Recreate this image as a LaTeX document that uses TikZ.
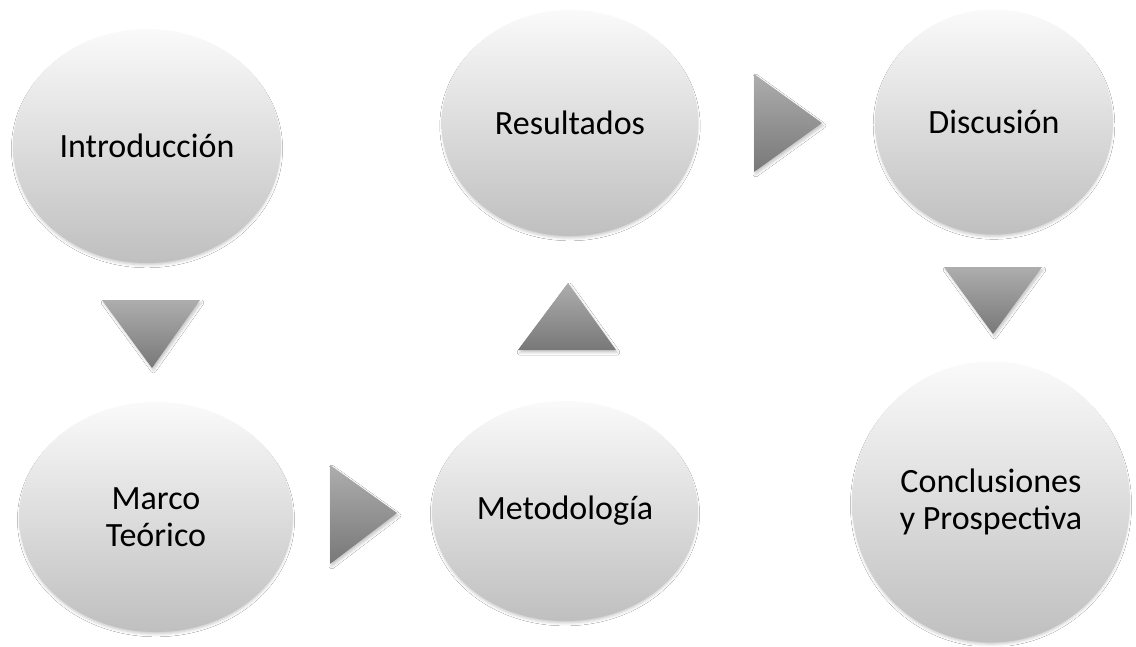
\documentclass[tikz,border=0pt]{standalone}
\usepackage{fontspec}
\setmainfont{Carlito}
\usetikzlibrary{shapes.geometric,shadows.blur}

\tikzset{
  stage/.style={ellipse, inner sep=0pt, align=center,
    top color=black!2, bottom color=black!25, draw=none,
    blur shadow={shadow xshift=0pt, shadow yshift=-3pt, shadow scale=0.99,
                 shadow blur radius=3pt, shadow opacity=22},
    font=\fontsize{34}{37.5}\selectfont},
  flowtri/.style={top color=black!32, bottom color=black!53, draw=none,
    blur shadow={shadow xshift=1.5pt, shadow yshift=-2.5pt,
                 shadow blur radius=2.5pt, shadow opacity=22}}
}

\begin{document}
\begin{tikzpicture}[x=1pt, y=-1pt]
  \fill[white] (0,0) rectangle (1136,646);
  \useasboundingbox (0,0) rectangle (1136,646);

  % stages of the work
  \node[stage, minimum width=268pt, minimum height=234pt] (intro)  at (147,146) {Introducción};
  \node[stage, minimum width=274pt, minimum height=230pt] (marco)  at (156,517) {Marco\\Teórico};
  \node[stage, minimum width=266pt, minimum height=220pt] (metodo) at (565,511) {Metodología};
  \node[stage, minimum width=257pt, minimum height=226pt] (result) at (570,123) {Resultados};
  \node[stage, minimum width=238pt, minimum height=225pt] (discus) at (994,122) {Discusión};
  \node[stage, minimum width=278pt, minimum height=281pt] (conclu) at (991,502) {Conclusiones\\y Prospectiva};

  % arrow-heads between consecutive stages
  \path[flowtri] (102,300) -- (200,300) -- (152,368) -- cycle;
  \path[flowtri] (330,465) -- (330,564) -- (397,513) -- cycle;
  \path[flowtri] (518,350) -- (616,350) -- (568,283) -- cycle;
  \path[flowtri] (754,74)  -- (754,172) -- (822,123) -- cycle;
  \path[flowtri] (944,267) -- (1042,267) -- (993,334) -- cycle;
\end{tikzpicture}
\end{document}
